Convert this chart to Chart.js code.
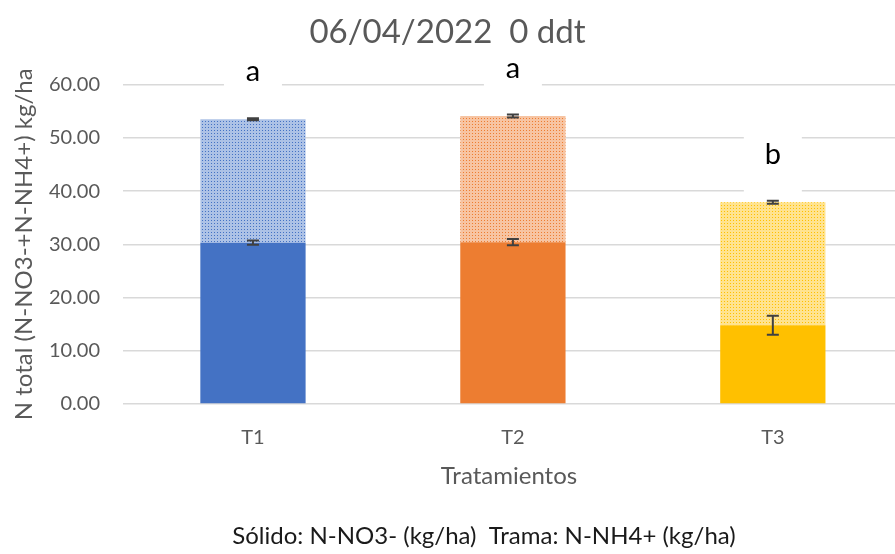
<!DOCTYPE html>
<html>
<head>
<meta charset="utf-8">
<script src="https://cdn.jsdelivr.net/npm/chart.js@4"></script>
<style>
  body { margin: 0; background: #fff; overflow: hidden; }
</style>
</head>
<body>
<canvas id="grafico" width="895" height="554"></canvas>
<script>
/* datos */
var tratamientos = ["T1", "T2", "T3"];
var nitrato = [30.3, 30.4, 14.8];      // N-NO3- (solido)
var amonio = [23.2, 23.7, 23.1];       // N-NH4+ (trama)
var errNitrato = [0.4, 0.6, 1.8];
var errTotal = [0.2, 0.3, 0.3];
var letras = ["a", "a", "b"];
var yTicks = [0, 10, 20, 30, 40, 50, 60];

var colores = ["#4472c4", "#ed7d31", "#ffc000"];
var claros = ["#adc2e6", "#f7c4a2", "#ffe38f"];

var fuente = "Lato";
var gris = "#595959";

// trama de puntos
function trama(fondo, punto) {
    var c = document.createElement("canvas");
    c.width = 3;
    c.height = 3;
    var g = c.getContext("2d");
    g.fillStyle = fondo;
    g.fillRect(0, 0, 3, 3);
    g.fillStyle = punto;
    g.fillRect(1, 1, 1, 1);
    return g.createPattern(c, "repeat");
}

var puntosNitrato = [];
var puntosAmonio = [];
for (var i = 0; i < tratamientos.length; i++) {
    puntosNitrato.push({ x: i + 1, y: nitrato[i] });
    puntosAmonio.push({ x: i + 1, y: amonio[i] });
}

var barrasError = {
    id: "barrasError",
    afterDatasetsDraw: function (chart) {
        var ctx = chart.ctx;
        var y = chart.scales.y;
        ctx.save();
        ctx.strokeStyle = "#404040";
        ctx.lineWidth = 2;
        [errNitrato, errTotal].forEach(function (errs, d) {
            var meta = chart.getDatasetMeta(d);
            meta.data.forEach(function (bar, i) {
                var v = d == 0 ? nitrato[i] : nitrato[i] + amonio[i];
                var y1 = y.getPixelForValue(v + errs[i]);
                var y2 = y.getPixelForValue(v - errs[i]);
                ctx.beginPath();
                ctx.moveTo(bar.x, y1);
                ctx.lineTo(bar.x, y2);
                ctx.moveTo(bar.x - 6, y1);
                ctx.lineTo(bar.x + 6, y1);
                ctx.moveTo(bar.x - 6, y2);
                ctx.lineTo(bar.x + 6, y2);
                ctx.stroke();
            });
        });

        // letras de significancia con fondo blanco
        var meta = chart.getDatasetMeta(1);
        ctx.font = "29px " + fuente;
        ctx.textAlign = "center";
        ctx.textBaseline = "alphabetic";
        meta.data.forEach(function (bar, i) {
            var base = bar.y - 38;
            ctx.fillStyle = "#fff";
            ctx.fillRect(bar.x - 29, base - 30, 58, 61);
            ctx.fillStyle = "#000";
            ctx.fillText(letras[i], bar.x, base);
        });

        // leyenda de texto
        ctx.font = "24px " + fuente;
        ctx.fillStyle = "#1a1a1a";
        ctx.fillText("Sólido: N-NO3- (kg/ha)  Trama: N-NH4+ (kg/ha)", 484, 544);
        ctx.restore();
    }
};

var ctx = document.getElementById("grafico").getContext("2d");

new Chart(ctx, {
    type: "bar",
    data: {
        datasets: [{
            label: "N-NO3- (kg/ha)",
            data: puntosNitrato,
            backgroundColor: colores
        }, {
            label: "N-NH4+ (kg/ha)",
            data: puntosAmonio,
            backgroundColor: colores.map(function (c, i) { return trama(claros[i], c); })
        }]
    },
    options: {
        responsive: false,
        animation: false,
        devicePixelRatio: 1,
        layout: { padding: 0 },
        datasets: {
            bar: { barPercentage: 0.405, categoryPercentage: 1 }
        },
        plugins: {
            legend: { display: false },
            tooltip: { enabled: false },
            title: {
                display: true,
                text: "06/04/2022  0 ddt",
                color: gris,
                font: { family: fuente, size: 33, weight: "normal" },
                padding: { top: 13, bottom: 32 }
            }
        },
        scales: {
            x: {
                type: "linear",
                stacked: true,
                offset: false,
                min: 0.5,
                max: 3.47,
                grid: { display: false, offset: false },
                border: { display: false },
                ticks: {
                    stepSize: 1,
                    includeBounds: false,
                    color: gris,
                    padding: 14,
                    font: { family: fuente, size: 20 },
                    callback: function (v) {
                        return Number.isInteger(v) ? tratamientos[v - 1] : "";
                    }
                },
                title: {
                    display: true,
                    text: "Tratamientos",
                    color: gris,
                    font: { family: fuente, size: 24 },
                    padding: { top: 0, bottom: 63 }
                },
                afterFit: function (s) { s.height = 150; }
            },
            y: {
                stacked: true,
                min: 0,
                max: 60,
                afterBuildTicks: function (s) {
                    s.ticks = yTicks.map(function (v) { return { value: v }; });
                },
                grid: { color: "#d9d9d9", lineWidth: 1.5, drawTicks: false },
                border: { display: false },
                ticks: {
                    color: gris,
                    padding: 23,
                    font: { family: fuente, size: 20 },
                    callback: function (v) { return v.toFixed(2); }
                },
                title: {
                    display: true,
                    text: "N total (N-NO3-+N-NH4+) kg/ha",
                    color: gris,
                    font: { family: fuente, size: 24 },
                    padding: { top: 10, bottom: 0 }
                },
                afterFit: function (s) { s.width = 123; }
            }
        }
    },
    plugins: [barrasError]
});
</script>
</body>
</html>
